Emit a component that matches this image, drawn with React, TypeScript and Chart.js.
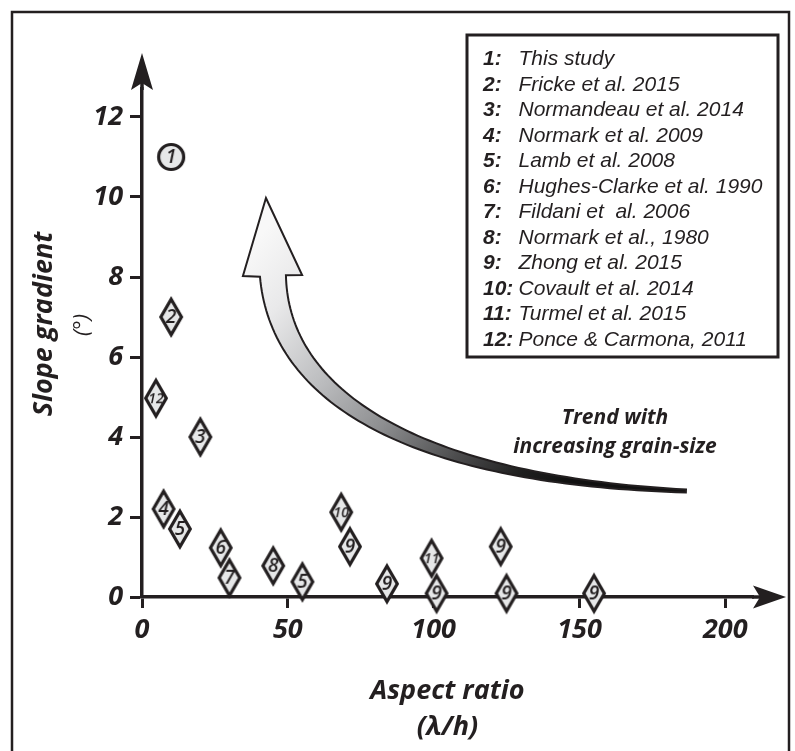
import { useEffect, useRef } from 'react';
import { Chart, registerables } from 'chart.js';

Chart.register(...registerables);

const INK = '#231f20';
const FILL = '#e6e7e8';

// ---- data ----
const pointLabels = ['12', '1', '2', '3', '4', '5', '6', '7', '8', '5', '10', '9', '9', '11', '9', '9', '9', '9'];
const aspectRatio = [4.8, 10, 10, 20, 7.4, 13, 27, 30, 45, 55, 68.3, 71.3, 84, 99.3, 101, 123, 125, 155];
const slopeGradient = [4.97, 11.0, 7.0, 4.0, 2.2, 1.7, 1.23, 0.48, 0.78, 0.38, 2.12, 1.26, 0.33, 0.97, 0.09, 1.26, 0.09, 0.09];
const xTicks = [0, 50, 100, 150, 200];
const yTicks = [0, 2, 4, 6, 8, 10, 12];
const refNumbers = ['1:', '2:', '3:', '4:', '5:', '6:', '7:', '8:', '9:', '10:', '11:', '12:'];
const refNames = [
  'This study',
  'Fricke et al. 2015',
  'Normandeau et al. 2014',
  'Normark et al. 2009',
  'Lamb et al. 2008',
  'Hughes-Clarke et al. 1990',
  'Fildani et  al. 2006',
  'Normark et al., 1980',
  'Zhong et al. 2015',
  'Covault et al. 2014',
  'Turmel et al. 2015',
  'Ponce & Carmona, 2011',
];
const xTitle = ['Aspect ratio', '(\u03bb/h)'];
const yTitle = 'Slope gradient';
const yUnit = '(\u00b0)';
const trendText = ['Trend with', 'increasing grain-size'];

// trend arrow geometry in data units (annotation)
const trendCurve = [[44.9, 8.025], [47.3, 4.925], [95.3, 2.925], [186.5, 2.65]];
const trendHead = { tip: [42.5, 9.975], left: [34.6, 8.025], right: [54.9, 8.05] };
const trendTextPos = [[162.2, 4.475], [162.2, 3.75]];

function makeMarker(label: string): HTMLCanvasElement {
  const c = document.createElement('canvas');
  const isCircle = label === '1';
  const w = isCircle ? 34 : 30;
  const h = isCircle ? 34 : 46;
  c.width = w;
  c.height = h;
  const g = c.getContext('2d')!;
  const cx = w / 2;
  const cy = h / 2;
  g.beginPath();
  if (isCircle) {
    g.arc(cx, cy, 12.5, 0, Math.PI * 2);
  } else {
    g.moveTo(cx, cy - 17.8);
    g.lineTo(cx + 10.3, cy);
    g.lineTo(cx, cy + 17.8);
    g.lineTo(cx - 10.3, cy);
    g.closePath();
  }
  g.fillStyle = FILL;
  g.fill();
  g.lineWidth = 3.2;
  g.strokeStyle = INK;
  g.lineJoin = 'miter';
  g.miterLimit = 10;
  g.stroke();
  g.fillStyle = INK;
  g.font = label.length > 1 ? 'italic 600 14px "Open Sans"' : 'italic 600 19px "Open Sans"';
  g.textAlign = 'center';
  g.textBaseline = 'middle';
  g.fillText(label, cx, cy + 1);
  return c;
}

function bez(p: number[][], t: number) {
  const u = 1 - t;
  const a = u * u * u, b = 3 * u * u * t, c = 3 * u * t * t, d = t * t * t;
  return [
    a * p[0][0] + b * p[1][0] + c * p[2][0] + d * p[3][0],
    a * p[0][1] + b * p[1][1] + c * p[2][1] + d * p[3][1],
  ];
}
function bezD(p: number[][], t: number) {
  const u = 1 - t;
  return [
    3 * u * u * (p[1][0] - p[0][0]) + 6 * u * t * (p[2][0] - p[1][0]) + 3 * t * t * (p[3][0] - p[2][0]),
    3 * u * u * (p[1][1] - p[0][1]) + 6 * u * t * (p[2][1] - p[1][1]) + 3 * t * t * (p[3][1] - p[2][1]),
  ];
}

const decorPlugin = {
  id: 'decor',
  beforeDraw(chart: any) {
    const ctx = chart.ctx;
    ctx.save();
    ctx.strokeStyle = INK;
    ctx.lineWidth = 2.5;
    ctx.strokeRect(12, 12, 777, 770);
    ctx.restore();
  },
  beforeDatasetsDraw(chart: any) {
    const ctx = chart.ctx;
    const xs = chart.scales.x;
    const ys = chart.scales.y;
    const P = (v: number[]) => [xs.getPixelForValue(v[0]), ys.getPixelForValue(v[1])];
    const ctrl = trendCurve.map(P);
    const N = 80;
    const leftSide: number[][] = [];
    const rightSide: number[][] = [];
    for (let i = 0; i <= N; i++) {
      const t = i / N;
      const c = bez(ctrl, t);
      const d = bezD(ctrl, t);
      const len = Math.hypot(d[0], d[1]) || 1;
      const nx = -d[1] / len;
      const ny = d[0] / len;
      const w = 3 + 23 * Math.pow(1 - t, 1.05);
      leftSide.push([c[0] - nx * w / 2, c[1] - ny * w / 2]);
      rightSide.push([c[0] + nx * w / 2, c[1] + ny * w / 2]);
    }
    const tip = P(trendHead.tip);
    const hl = P(trendHead.left);
    const hr = P(trendHead.right);
    let L = leftSide, R = rightSide;
    if (L[0][0] > R[0][0]) { L = rightSide; R = leftSide; }
    ctx.save();
    ctx.beginPath();
    ctx.moveTo(tip[0], tip[1]);
    ctx.lineTo(hr[0], hr[1]);
    for (let i = 0; i <= N; i++) ctx.lineTo(R[i][0], R[i][1]);
    for (let i = N; i >= 0; i--) ctx.lineTo(L[i][0], L[i][1]);
    ctx.lineTo(hl[0], hl[1]);
    ctx.closePath();
    const g1 = P([40, 9]);
    const g2 = P([143, 2.7]);
    const grad = ctx.createLinearGradient(g1[0], g1[1], g2[0], g2[1]);
    grad.addColorStop(0, '#f8f8f8');
    grad.addColorStop(0.15, '#e9e9ea');
    grad.addColorStop(0.35, '#bebfc1');
    grad.addColorStop(0.55, '#8d8e90');
    grad.addColorStop(0.75, '#4b4b4c');
    grad.addColorStop(0.9, '#1f1f1f');
    grad.addColorStop(1, '#111111');
    ctx.fillStyle = grad;
    ctx.fill();
    ctx.lineJoin = 'miter';
    ctx.strokeStyle = INK;
    ctx.lineWidth = 2;
    ctx.stroke();
    ctx.fillStyle = INK;
    ctx.font = 'italic bold 21px "Open Sans"';
    ctx.textAlign = 'center';
    ctx.textBaseline = 'middle';
    trendText.forEach((s, i) => {
      const p = P(trendTextPos[i]);
      ctx.fillText(s, p[0], p[1]);
    });
    ctx.restore();
  },
  afterDatasetsDraw(chart: any) {
    const ctx = chart.ctx;
    const a = chart.chartArea;
    ctx.save();
    ctx.fillStyle = INK;
    ctx.strokeStyle = INK;
    ctx.lineWidth = 3.5;
    const x0 = a.left;
    ctx.beginPath();
    ctx.moveTo(x0, a.top + 1);
    ctx.lineTo(x0, a.top - 6);
    ctx.stroke();
    ctx.beginPath();
    ctx.moveTo(x0, a.top - 36);
    ctx.lineTo(x0 + 11, a.top + 1);
    ctx.lineTo(x0, a.top - 6);
    ctx.lineTo(x0 - 11, a.top + 1);
    ctx.closePath();
    ctx.fill();
    const yb = a.bottom;
    ctx.beginPath();
    ctx.moveTo(a.right - 1, yb);
    ctx.lineTo(a.right + 7, yb);
    ctx.stroke();
    ctx.beginPath();
    ctx.moveTo(a.right + 33, yb);
    ctx.lineTo(a.right, yb - 11.5);
    ctx.lineTo(a.right + 7, yb);
    ctx.lineTo(a.right, yb + 11.5);
    ctx.closePath();
    ctx.fill();

    ctx.textAlign = 'center';
    ctx.textBaseline = 'alphabetic';
    ctx.save();
    ctx.translate(52, 324);
    ctx.rotate(-Math.PI / 2);
    ctx.font = 'italic bold 27px "Open Sans"';
    ctx.fillText(yTitle, 0, 0);
    ctx.restore();
    ctx.save();
    ctx.translate(89, 325);
    ctx.rotate(-Math.PI / 2);
    ctx.font = 'italic 22px "Open Sans"';
    ctx.fillText(yUnit, 0, 0);
    ctx.restore();

    ctx.lineWidth = 3;
    ctx.strokeRect(467, 35, 311, 322);
    ctx.textAlign = 'left';
    ctx.textBaseline = 'alphabetic';
    refNumbers.forEach((n, i) => {
      const y = 65.3 + 25.5 * i;
      ctx.font = 'italic bold 21px "Liberation Sans"';
      ctx.fillText(n, 483, y);
      ctx.font = 'italic 21px "Liberation Sans"';
      ctx.fillText(refNames[i], 518.5, y);
    });
    ctx.restore();
  },
};

export default function App() {
  const ref = useRef<HTMLCanvasElement>(null);
  useEffect(() => {
    const canvas = ref.current!;
    const markers = pointLabels.map(makeMarker);
    const tickFont = { family: 'Open Sans', size: 27, weight: 'bold' as const, style: 'italic' as const };
    const chart = new Chart(canvas, {
      type: 'scatter',
      data: {
        datasets: [
          {
            data: aspectRatio.map((x, i) => ({ x, y: slopeGradient[i] })),
            pointStyle: markers as any,
            pointRadius: 12,
            clip: false as any,
          },
        ],
      },
      options: {
        animation: false,
        responsive: false,
        devicePixelRatio: 1,
        events: [],
        layout: { padding: { left: 0, top: 89, right: 42, bottom: 0 } },
        plugins: { legend: { display: false }, tooltip: { enabled: false } },
        scales: {
          x: {
            type: 'linear',
            min: 0,
            max: 209.5,
            afterBuildTicks: (s: any) => { s.ticks = xTicks.map((v) => ({ value: v })); },
            afterFit: (s: any) => { s.height = 154; },
            border: { display: true, width: 3.5, color: INK },
            grid: { drawOnChartArea: false, tickLength: 11, tickWidth: 3, tickColor: INK },
            ticks: { font: tickFont, color: INK, padding: 6, maxRotation: 0, autoSkip: false },
            title: {
              display: true,
              text: xTitle,
              color: INK,
              font: { family: 'Open Sans', size: 27, weight: 'bold', style: 'italic', lineHeight: 36 / 27 },
              padding: { top: 0, bottom: 6 },
            },
          },
          y: {
            type: 'linear',
            min: 0,
            max: 12.7,
            afterBuildTicks: (s: any) => { s.ticks = yTicks.map((v) => ({ value: v })); },
            afterFit: (s: any) => { s.width = 142; },
            border: { display: true, width: 3.5, color: INK },
            grid: { drawOnChartArea: false, tickLength: 12, tickWidth: 3, tickColor: INK },
            ticks: { font: tickFont, color: INK, padding: 7, autoSkip: false },
          },
        },
      },
      plugins: [decorPlugin],
    });
    return () => chart.destroy();
  }, []);
  return (
    <div style={{ position: 'absolute', left: 0, top: 0, width: 795, height: 751 }}>
      <canvas ref={ref} width={795} height={751} style={{ width: 795, height: 751, display: 'block' }} />
    </div>
  );
}
